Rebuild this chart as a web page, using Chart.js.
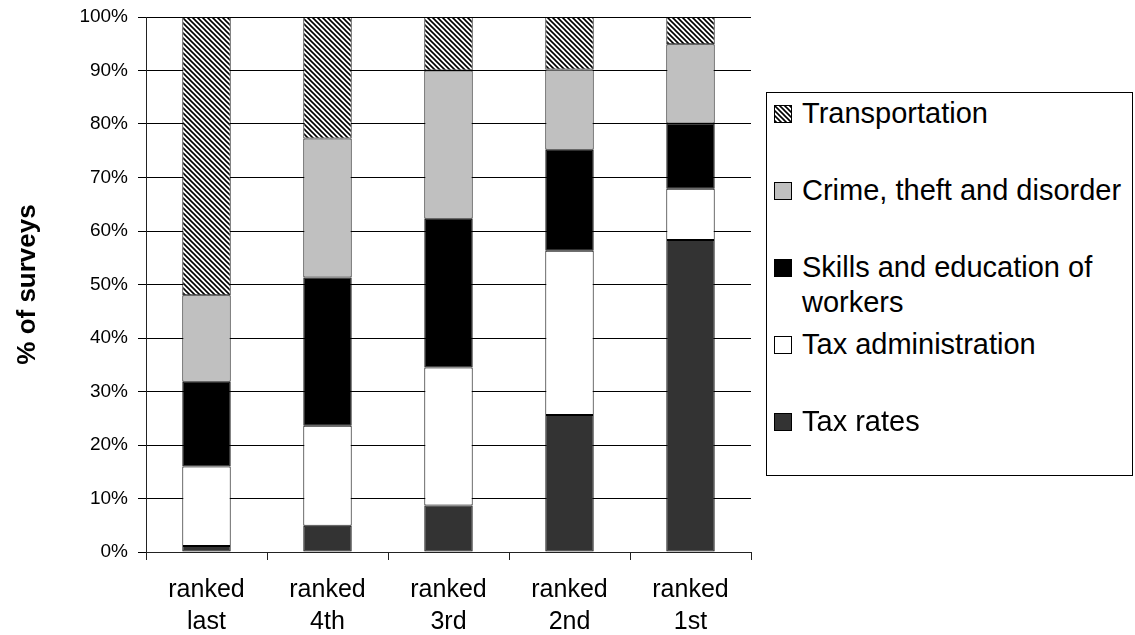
<!DOCTYPE html>
<html>
<head>
<meta charset="utf-8">
<script src="https://cdn.jsdelivr.net/npm/chart.js@4.4.1/dist/chart.umd.min.js"></script>
<style>
    body { margin: 0; background: #fff; font-family: 'Liberation Sans', Arial, sans-serif; }
    #wrap { position: relative; width: 1135px; height: 635px; }
    #legend {
        position: absolute; left: 766px; top: 92px; width: 367px; height: 384px;
        box-sizing: border-box; border: 1px solid #000; padding-top: 3px; background: #fff;
    }
    .item { position: relative; height: 77px; padding-left: 35px; font-size: 29px; line-height: 35px; color: #000; }
    .item canvas { position: absolute; left: 7px; top: 9px; }
</style>
</head>
<body>
<div id="wrap">
    <canvas id="chart" width="1135" height="635"></canvas>
    <div id="legend"></div>
</div>
<script>
var categories = [['ranked', 'last'], ['ranked', '4th'], ['ranked', '3rd'], ['ranked', '2nd'], ['ranked', '1st']];
var seriesNames = ['Tax rates', 'Tax administration', 'Skills and education of workers', 'Crime, theft and disorder', 'Transportation'];
var taxRates = [1.1, 4.9, 8.7, 25.6, 58.3];
var taxAdmin = [14.9, 18.7, 25.8, 30.7, 9.6];
var skills = [15.8, 27.7, 27.8, 18.9, 12.2];
var crime = [16.2, 26.0, 27.7, 15.0, 14.8];
var transport = [52.0, 22.7, 10.0, 9.8, 5.1];
var yTickValues = [0, 10, 20, 30, 40, 50, 60, 70, 80, 90, 100];
var yTitle = '% of surveys';

(function () {
    var FONT = "'Liberation Sans', Arial, sans-serif";

    // diagonal hatch for Transportation
    function hatch() {
        var s = 5;
        var c = document.createElement('canvas');
        c.width = s;
        c.height = s;
        var g = c.getContext('2d');
        g.fillStyle = '#fff';
        g.fillRect(0, 0, s, s);
        g.strokeStyle = '#000';
        g.lineWidth = 1.6;
        g.beginPath();
        g.moveTo(-1, -1); g.lineTo(s + 1, s + 1);
        g.moveTo(-1, s - 1); g.lineTo(1, s + 1);
        g.moveTo(s - 1, -1); g.lineTo(s + 1, 1);
        g.stroke();
        return g.createPattern(c, 'repeat');
    }

    var fills = ['#333333', '#ffffff', '#000000', '#c0c0c0', hatch()];
    var values = [taxRates, taxAdmin, skills, crime, transport];

    var datasets = values.map(function (v, i) {
        return {
            label: seriesNames[i],
            data: v,
            backgroundColor: fills[i],
            borderColor: '#000',
            borderWidth: 1,
            borderSkipped: false,
            barPercentage: 0.4,
            categoryPercentage: 1.0,
        };
    });

    new Chart(document.getElementById('chart'), {
        type: 'bar',
        data: { labels: categories, datasets: datasets },
        options: {
            responsive: false,
            animation: false,
            devicePixelRatio: 1,
            layout: { padding: { top: 17, right: 384, left: 0, bottom: 0 } },
            plugins: { legend: { display: false }, tooltip: { enabled: false }, title: { display: false } },
            scales: {
                x: {
                    stacked: true,
                    grid: { offset: true, drawOnChartArea: false, drawTicks: true, tickLength: 8, color: '#222' },
                    border: { color: '#222' },
                    ticks: { color: '#000', padding: 14, font: { family: FONT, size: 25, lineHeight: 1.27 } },
                    afterFit: function (s) { s.height = 83; s.paddingLeft = 0; s.paddingRight = 0; },
                },
                y: {
                    stacked: true,
                    min: 0,
                    max: 100,
                    afterBuildTicks: function (s) {
                        s.ticks = yTickValues.map(function (v) { return { value: v }; });
                    },
                    grid: { color: '#000', tickLength: 8 },
                    border: { color: '#222' },
                    ticks: {
                        color: '#000',
                        padding: 10,
                        font: { family: FONT, size: 19 },
                        callback: function (v) { return v + '%'; },
                    },
                    title: {
                        display: true,
                        text: yTitle,
                        color: '#000',
                        padding: { top: 12, bottom: 0 },
                        font: { family: FONT, size: 26, weight: 'bold' },
                    },
                    afterFit: function (s) { s.width = 146; s.paddingTop = 0; s.paddingBottom = 0; },
                },
            },
        },
    });

    // legend, top item = last series
    var box = document.getElementById('legend');
    for (var i = seriesNames.length - 1; i >= 0; i--) {
        var item = document.createElement('div');
        item.className = 'item';
        var sw = document.createElement('canvas');
        sw.width = 18;
        sw.height = 18;
        var g = sw.getContext('2d');
        g.fillStyle = fills[i];
        g.fillRect(0, 0, 18, 18);
        g.strokeStyle = '#000';
        g.lineWidth = 1;
        g.strokeRect(0.5, 0.5, 17, 17);
        item.appendChild(sw);
        item.appendChild(document.createTextNode(seriesNames[i]));
        box.appendChild(item);
    }
})();
</script>
</body>
</html>
